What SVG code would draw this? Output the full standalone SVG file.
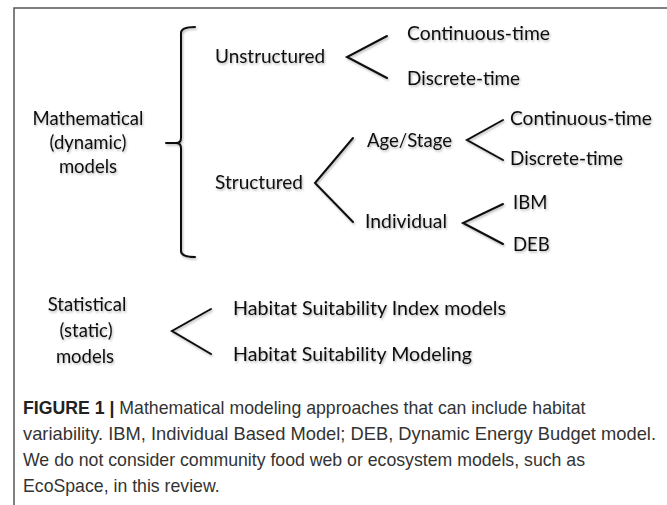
<svg xmlns="http://www.w3.org/2000/svg" width="667" height="505" viewBox="0 0 667 505">
<style>
.t{font-family:Lato,"Liberation Sans",sans-serif;font-size:18.5px;fill:#111}
.m{text-anchor:middle}
.ln{fill:none;stroke:#111;stroke-width:2;stroke-linecap:round;stroke-linejoin:miter}
.cap{font-family:"Liberation Sans",Arial,sans-serif;font-size:17.7px;fill:#333}
.b{font-weight:bold;fill:#222}
</style>
<defs>
<filter id="sh" x="-10%" y="-30%" width="120%" height="160%">
<feDropShadow dx="1" dy="1.5" stdDeviation="1.2" flood-color="#000" flood-opacity="0.3"/>
</filter>
</defs>
<rect width="667" height="505" fill="#fff"/>
<path d="M14,505 V8 H667" fill="none" stroke="#555" stroke-width="1.5"/>
<g filter="url(#sh)">
<g id="connectors">
<path class="ln" d="M195,27 Q181,27 181,33 V138 Q181,143 176,143 H166 M176,143 Q181,143 181,148 V251 Q181,257 195,257" stroke-width="2.5"/>
<path class="ln" d="M387,36 L347,57 L387,78"/>
<path class="ln" d="M353,138 L315,183 L353,222"/>
<path class="ln" d="M503,120 L467,140 L503,160"/>
<path class="ln" d="M503,204 L463,223 L503,244"/>
<path class="ln" d="M211,309 L172,331 L211,354"/>
</g>
<g id="n-math"><text class="t m" x="88" y="125">Mathematical</text><text class="t m" x="88" y="149">(dynamic)</text><text class="t m" x="88" y="173">models</text></g>
<g id="n-unstructured"><text class="t" x="215" y="63" textLength="110" lengthAdjust="spacingAndGlyphs">Unstructured</text></g>
<g id="n-ct1"><text class="t" x="407" y="40" textLength="143" lengthAdjust="spacingAndGlyphs">Continuous-time</text></g>
<g id="n-dt1"><text class="t" x="407" y="85" textLength="113" lengthAdjust="spacingAndGlyphs">Discrete-time</text></g>
<g id="n-structured"><text class="t" x="215" y="189" textLength="88" lengthAdjust="spacingAndGlyphs">Structured</text></g>
<g id="n-age"><text class="t" x="367" y="147" textLength="85" lengthAdjust="spacingAndGlyphs">Age/Stage</text></g>
<g id="n-ct2"><text class="t" x="510" y="125" textLength="142" lengthAdjust="spacingAndGlyphs">Continuous-time</text></g>
<g id="n-dt2"><text class="t" x="510" y="165" textLength="113" lengthAdjust="spacingAndGlyphs">Discrete-time</text></g>
<g id="n-individual"><text class="t" x="365" y="228" textLength="82" lengthAdjust="spacingAndGlyphs">Individual</text></g>
<g id="n-ibm"><text class="t" x="513" y="209">IBM</text></g>
<g id="n-deb"><text class="t" x="513" y="251">DEB</text></g>
<g id="n-stat"><text class="t m" x="87" y="311">Statistical</text><text class="t m" x="86" y="337">(static)</text><text class="t m" x="85" y="363">models</text></g>
<g id="n-hsi"><text class="t" x="233" y="315" textLength="273" lengthAdjust="spacingAndGlyphs">Habitat Suitability Index models</text></g>
<g id="n-hsm"><text class="t" x="233" y="361" textLength="239" lengthAdjust="spacingAndGlyphs">Habitat Suitability Modeling</text></g>
</g>
<g id="caption">
<text class="cap" x="23" y="414"><tspan class="b">FIGURE 1 |</tspan> Mathematical modeling approaches that can include habitat</text>
<text class="cap" x="23" y="440" textLength="633" lengthAdjust="spacingAndGlyphs">variability. IBM, Individual Based Model; DEB, Dynamic Energy Budget model.</text>
<text class="cap" x="23" y="466">We do not consider community food web or ecosystem models, such as</text>
<text class="cap" x="23" y="492">EcoSpace, in this review.</text>
</g>
</svg>
